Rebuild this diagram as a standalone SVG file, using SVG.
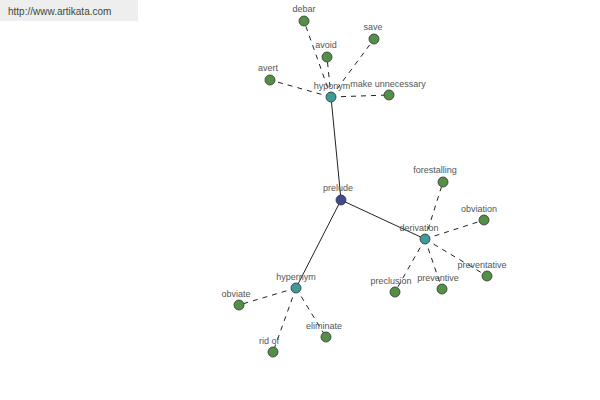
<svg xmlns="http://www.w3.org/2000/svg" width="600" height="400" viewBox="0 0 600 400">
<style>
text{font-family:"Liberation Sans",Arial,sans-serif;font-size:9px;fill:#555;text-anchor:middle}
.d{stroke:#222;stroke-width:1;stroke-dasharray:5,5;fill:none}
.s{stroke:#222;stroke-width:1;fill:none}
.leaf{fill:#548f46;stroke:#333;stroke-width:0.8}
.hub{fill:#3f9a9a;stroke:#333;stroke-width:0.8}
.root{fill:#404a8e;stroke:#333;stroke-width:0.8}
</style>
<rect x="0" y="0" width="138" height="21" fill="#eeeeee"/>
<text x="8" y="15" style="text-anchor:start;font-size:10px;fill:#3a4a3a">http://www.artikata.com</text>
<g id="connectors">
<line class="s" x1="341" y1="200" x2="331" y2="97"/>
<line class="s" x1="341" y1="200" x2="425" y2="239"/>
<line class="s" x1="341" y1="200" x2="296" y2="288"/>
<line class="d" x1="331" y1="97" x2="304" y2="21"/>
<line class="d" x1="331" y1="97" x2="327" y2="57"/>
<line class="d" x1="331" y1="97" x2="374" y2="39"/>
<line class="d" x1="331" y1="97" x2="270" y2="80"/>
<line class="d" x1="331" y1="97" x2="389" y2="95"/>
<line class="d" x1="425" y1="239" x2="443" y2="182"/>
<line class="d" x1="425" y1="239" x2="484" y2="220"/>
<line class="d" x1="425" y1="239" x2="487" y2="276"/>
<line class="d" x1="425" y1="239" x2="442" y2="289"/>
<line class="d" x1="425" y1="239" x2="395" y2="292"/>
<line class="d" x1="296" y1="288" x2="239" y2="305"/>
<line class="d" x1="296" y1="288" x2="273" y2="352"/>
<line class="d" x1="296" y1="288" x2="326" y2="337"/>
</g>
<g id="debar"><circle class="leaf" cx="304" cy="21" r="5"/><text x="304" y="12">debar</text></g>
<g id="avoid"><circle class="leaf" cx="327" cy="57" r="5"/><text x="326" y="48">avoid</text></g>
<g id="save"><circle class="leaf" cx="374" cy="39" r="5"/><text x="373" y="30">save</text></g>
<g id="avert"><circle class="leaf" cx="270" cy="80" r="5"/><text x="268" y="71">avert</text></g>
<g id="make-unnecessary"><circle class="leaf" cx="389" cy="95" r="5"/><text x="388" y="87">make unnecessary</text></g>
<g id="forestalling"><circle class="leaf" cx="443" cy="182" r="5"/><text x="435" y="173">forestalling</text></g>
<g id="obviation"><circle class="leaf" cx="484" cy="220" r="5"/><text x="479" y="212">obviation</text></g>
<g id="preventative"><circle class="leaf" cx="487" cy="276" r="5"/><text x="482" y="268">preventative</text></g>
<g id="preventive"><circle class="leaf" cx="442" cy="289" r="5"/><text x="438" y="281">preventive</text></g>
<g id="preclusion"><circle class="leaf" cx="395" cy="292" r="5"/><text x="391" y="284">preclusion</text></g>
<g id="obviate"><circle class="leaf" cx="239" cy="305" r="5"/><text x="236" y="297">obviate</text></g>
<g id="rid-of"><circle class="leaf" cx="273" cy="352" r="5"/><text x="269" y="344">rid of</text></g>
<g id="eliminate"><circle class="leaf" cx="326" cy="337" r="5"/><text x="324" y="329">eliminate</text></g>
<g id="hyponym"><circle class="hub" cx="331" cy="97" r="5"/><text x="332" y="89">hyponym</text></g>
<g id="derivation"><circle class="hub" cx="425" cy="239" r="5"/><text x="419" y="231">derivation</text></g>
<g id="hypernym"><circle class="hub" cx="296" cy="288" r="5"/><text x="296" y="280">hypernym</text></g>
<g id="prelude"><circle class="root" cx="341" cy="200" r="5"/><text x="338" y="191">prelude</text></g>
</svg>
